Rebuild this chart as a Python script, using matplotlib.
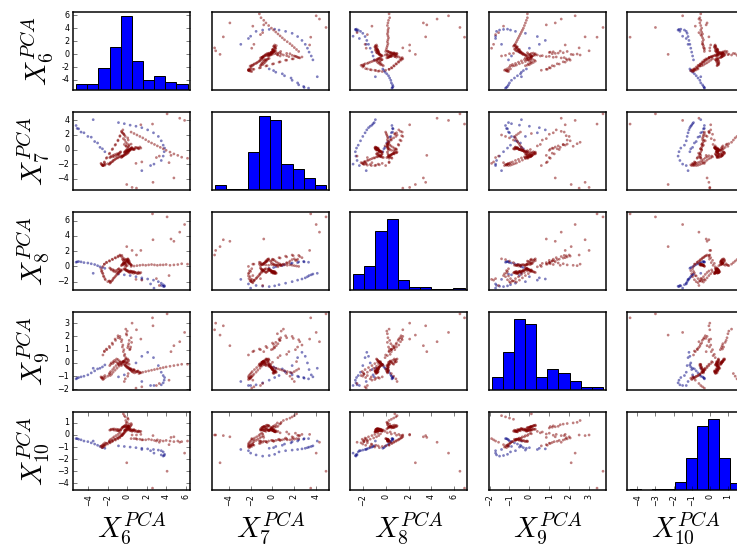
import numpy as np
import pandas as pd
import matplotlib
matplotlib.use("Agg")
import matplotlib.pyplot as plt
from pandas.plotting import scatter_matrix

# PCA components 6..10, one value per sample, grouped along the trajectory
pc6 = [
    -5.26, -5.15, -5.0, -4.75, -4.45, -4.05, -3.7, -3.35, -3.05, -2.8, -2.55, -2.3,
    -3.5, -0.9, -0.3, 0.3, 0.9, 1.5, 2.1, 2.7, 3.2, 3.5, 3.7, 3.84, 3.8, 3.7, 3.5, 2.75, 2.4, 1.5,
    0.4, 0.7, 1.0, 1.3, 1.6, 1.9, 2.2, 2.5, 2.8, 3.1, 3.4, 3.7, 4.0, 4.4, 4.8, 5.2, 5.6, 6.2,
    -0.3, -0.2, -0.25, -0.1, -0.15, 0.0, -0.05, 0.1, 0.05, 0.2, 0.15, 0.3, 0.25, 0.4, 0.35,
    0.45, 0.55, 0.5, 0.65, 0.6, 0.8, 0.75, 1.0, 0.9, 1.2, 1.1, 1.4, 0.7, 1.3, 1.15,
    -2.5, -2.35, -2.35, -2.15, -2.1, -1.85, -1.8, -1.55, -1.5, -1.25, -1.2, -0.95,
    -0.95, -0.75, -0.75, -0.55, -0.6, -0.45, -0.5, -0.35, -0.4, -0.25, -0.3, -0.15,
    -2.7, -2.6, -2.65, -2.5, -2.55, -2.4, -2.45, -2.25, -2.3, -2.0, -1.85, -1.75, -1.8,
    -1.6, -1.7, -1.45, -1.5, -1.25, -1.35, -1.05, -1.15, -0.85, -0.95, -0.65, -0.75, -0.5,
    -1.8, -1.65, -1.7, -1.45, -1.5, -1.3, -1.35, -1.1, -1.15, -0.95, -1.0, -0.8, -0.9, -0.7, -0.85, -0.68,
    -0.6, -0.45, -0.55, -0.35, -0.5, -0.25, -0.4, -0.15, -0.3, -0.05, -0.2, 0.05, -0.1, 0.15, 0.0, 0.1,
    0.2, -0.05, 0.25, 0.05, 0.3, 0.1, 0.35, 0.15, 0.45, 0.2, 0.4, -0.1, 0.0, -0.15, 0.1, 0.05, -0.2, -0.3, -0.4,
    2.6, 4.1, -0.05, 0.5, 0.95, 2.65, 1.4, 4.5, 4.8, 5.4, 5.9, 0.9, 1.5, 3.0, 3.3, 4.3,
]
pc7 = [
    3.3, 2.9, 2.85, 2.4, 2.3, 1.8, 1.7, 1.1, 0.9, 0.3, 0.1, -0.3,
    4.1, 3.7, 3.55, 3.35, 3.2, 3.0, 2.7, 2.3, 1.8, 1.2, 0.6, 0.2, -0.3, -0.9, -1.5, -2.0, -2.2, -2.9,
    2.4, 2.2, 2.0, 1.8, 1.6, 1.35, 1.1, 0.9, 0.7, 0.5, 0.3, 0.1, -0.1, -0.35, -0.6, -0.8, -1.05, -1.2,
    -0.35, -0.2, -0.4, -0.15, -0.3, -0.1, -0.25, -0.05, -0.2, 0.0, -0.15, 0.05, -0.1, 0.1, -0.05,
    0.15, 0.0, 0.2, 0.05, 0.1, 0.25, 0.05, 0.2, 0.3, 0.1, 0.25, 0.2, 0.0, 0.35, 0.15,
    -2.2, -1.8, -1.7, -1.2, -1.1, -0.6, -0.5, 0.0, 0.1, 0.6, 0.7, 1.2,
    1.3, 1.8, 1.9, 2.4, 2.5, 2.7, 2.3, 2.1, 1.5, 1.3, 0.7, 0.5,
    -1.9, -2.1, -2.0, -2.2, -2.15, -2.05, -2.2, -2.0, -2.15, -1.95, -2.05, -1.8, -1.95,
    -1.7, -1.85, -1.5, -1.65, -1.35, -1.45, -1.15, -1.25, -1.0, -1.15, -0.85, -1.0, -0.9,
    -1.1, -0.9, -1.05, -0.8, -1.0, -0.7, -0.95, -0.6, -0.85, -0.55, -0.75, -0.45, -0.7, -0.4, -0.6, -0.3,
    -1.1, -0.9, -1.0, -0.75, -0.95, -0.6, -0.85, -0.5, -0.8, -0.4, -0.7, -0.35, -0.65, -0.3, -0.55, -0.45,
    -0.15, 0.0, -0.1, 0.2, 0.05, 0.35, 0.15, 0.5, 0.3, 0.65, 0.75, 0.45, 0.8, 1.0, 1.3, 1.6, 1.8, 2.0, 2.2,
    3.5, 4.9, -4.8, -5.2, -5.3, -4.5, 3.4, -0.8, -3.9, 4.3, 4.0, -1.9, -1.7, -1.1, -0.9, -1.8,
]
pc8 = [
    0.55, 0.6, 0.65, 0.6, 0.5, 0.45, 0.35, 0.25, 0.1, -0.05, -0.15, -0.25,
    -0.9, -1.0, -1.1, -1.2, -1.35, -1.5, -1.65, -1.8, -2.0, -2.2, -2.4, -2.55, -2.65, -2.6, -2.5, -2.85, -2.3, -1.7,
    0.0, 0.05, 0.1, 0.15, 0.2, 0.15, 0.2, 0.25, 0.2, 0.15, 0.2, 0.2, 0.25, 0.15, 0.2, 0.25, 0.35, 0.3,
    -0.3, -0.45, -0.35, -0.55, -0.4, -0.6, -0.5, -0.7, -0.55, -0.75, -0.6, -0.65, -0.8, -0.7, -0.6,
    -0.85, -0.75, -0.65, -0.9, -0.7, -0.85, -0.75, -0.9, -0.8, -0.85, -0.95, -0.8, -0.7, -0.9, -0.75,
    0.0, 0.3, 0.3, 0.55, 0.5, 0.75, 0.7, 0.95, 0.9, 1.15, 1.1, 1.35,
    1.25, 1.5, 1.4, 1.45, 1.3, 1.15, 0.95, 0.8, 0.5, 0.4, 0.15, -0.05,
    -0.3, -0.55, -0.65, -0.95, -0.85, -1.35, -1.25, -1.75, -1.6, -2.0, -1.9, -2.15, -1.95,
    -1.9, -2.05, -1.6, -1.8, -1.35, -1.5, -1.05, -1.2, -0.8, -0.95, -0.6, -0.7, -0.45,
    -0.2, -0.45, -0.3, -0.6, -0.4, -0.7, -0.5, -0.8, -0.55, -0.75, -0.45, -0.65, -0.35, -0.55, -0.3, -0.45,
    0.1, 0.3, 0.2, 0.45, 0.25, 0.6, 0.35, 0.75, 0.4, 0.9, 0.5, 1.0, 0.55, 0.8, 0.65, 0.95,
    0.7, 0.85, 0.5, 0.75, 0.35, 0.6, 0.25, 0.45, 0.15, 0.35, 0.2, 0.15, 0.1, 0.3, 0.5, 0.7, 0.9, 1.0, 0.8,
    6.9, 6.5, 2.6, 2.1, 1.5, 3.5, 2.1, 3.6, 3.3, 4.5, 5.5, -1.7, -1.8, -1.6, -2.5, -1.2,
]
pc9 = [
    -1.2, -1.15, -1.1, -1.05, -1.0, -0.9, -0.75, -0.6, -0.45, -0.4, -0.3, -0.15,
    -0.4, -1.05, -0.9, -0.5, 0.0, 0.5, 0.8, 0.4, -0.2, -0.7, -0.95, -1.1, -1.3, -1.5, -1.65, -1.7, -1.7, -1.4,
    -0.45, -0.55, -0.65, -0.75, -0.7, -0.65, -0.6, -0.55, -0.5, -0.45, -0.4, -0.35, -0.3, -0.25, -0.2, -0.15, -0.1, -0.1,
    -0.1, -0.2, -0.15, -0.3, -0.2, -0.35, -0.25, -0.4, -0.3, -0.45, -0.35, -0.5, -0.4, -0.55, -0.45,
    -0.6, -0.5, -0.65, -0.55, -0.7, -0.6, -0.75, -0.65, -0.7, -0.8, -0.6, -0.75, -0.5, -0.7, -0.65,
    0.6, 0.85, 0.9, 1.05, 1.0, 1.25, 1.15, 1.5, 1.4, 1.8, 1.7, 2.05,
    1.9, 2.0, 1.85, 1.75, 1.6, 1.35, 1.2, 1.0, 0.85, 0.65, 0.55, 0.4,
    -1.05, -1.15, -1.1, -1.25, -1.15, -1.2, -1.05, -1.1, -0.95, -1.0, -0.85, -0.95, -0.75,
    -0.85, -0.65, -0.7, -0.5, -0.55, -0.35, -0.4, -0.2, -0.25, -0.05, -0.1, 0.05, 0.1,
    -0.2, 0.0, -0.1, 0.1, -0.05, 0.2, 0.05, 0.3, 0.1, 0.25, 0.0, 0.15, -0.1, 0.05, -0.15, -0.05,
    -0.2, 0.0, -0.1, 0.1, 0.05, 0.2, 0.1, 0.3, 0.15, 0.25, 0.05, 0.3, 0.0, 0.2, -0.05, 0.1,
    -0.1, 0.05, 1.0, 1.15, 1.05, 1.3, 1.2, 1.45, 1.55, 1.7, 1.9, 2.2, 2.4, 2.55, -0.8, -1.0, -1.2, -1.4, 0.1,
    3.4, 3.7, 2.1, 3.0, 2.5, 2.8, 1.8, 0.85, 1.3, 1.6, 2.3, -1.9, -1.8, -1.7, -1.55, -1.3,
]
pc10 = [
    -0.3, -0.3, -0.35, -0.4, -0.5, -0.55, -0.65, -0.75, -0.85, -0.95, -1.05, -1.1,
    -0.5, -0.9, -0.95, -1.0, -1.05, -1.1, -1.15, -1.2, -1.25, -1.3, -1.4, -1.6, -1.7, -1.75, -1.65, -1.5, -1.3, -1.2,
    -0.3, -0.3, -0.35, -0.35, -0.4, -0.4, -0.35, -0.4, -0.45, -0.4, -0.45, -0.5, -0.45, -0.5, -0.55, -0.5, -0.55, -0.5,
    0.35, 0.45, 0.4, 0.5, 0.38, 0.48, 0.42, 0.55, 0.4, 0.5, 0.45, 0.38, 0.5, 0.42, 0.35,
    0.45, 0.4, 0.3, 0.42, 0.35, 0.3, 0.4, 0.28, 0.36, 0.32, 0.25, 0.3, 0.44, 0.27, 0.33,
    -0.9, -0.8, -0.85, -0.7, -0.68, -0.55, -0.62, -0.45, -0.52, -0.35, -0.42, -0.25,
    -0.32, -0.15, -0.22, -0.05, -0.05, 0.05, -0.02, 0.15, 0.08, 0.25, 0.18, 0.3,
    -0.95, -1.05, -0.9, -1.0, -0.85, -0.95, -0.75, -0.85, -0.65, -0.75, -0.55, -0.65, -0.45,
    -0.55, -0.35, -0.45, -0.25, -0.35, -0.15, -0.25, -0.05, -0.15, 0.05, -0.05, 0.15, 0.1,
    0.4, 0.48, 0.42, 0.5, 0.45, 0.5, 0.4, 0.48, 0.38, 0.46, 0.36, 0.44, 0.34, 0.42, 0.3, 0.38,
    0.5, 0.65, 0.58, 0.72, 0.62, 0.78, 0.66, 0.82, 0.7, 0.8, 0.68, 0.76, 0.64, 0.74, 0.6, 0.7,
    0.62, 0.66, 0.58, 0.64, 0.7, 0.68, 0.76, 0.72, 0.85, 0.9, 0.95, 1.0, 1.05, 1.2, 1.3, 1.4, 1.5, 1.6, 1.75,
    -4.4, -3.0, -2.3, 0.0, 0.0, -0.05, 0.05, -0.2, -0.15, -0.6, -1.5, -0.3, -0.4, -0.5, -0.6, -0.8,
]
# 0 = blue class, 1 = red class
label = [
    0, 0, 0, 0, 0, 0, 0, 0, 0, 0, 0, 0,
    0, 0, 0, 0, 0, 0, 0, 0, 0, 0, 0, 0, 0, 0, 0, 0, 0, 0,
    1, 1, 1, 1, 1, 1, 1, 1, 1, 1, 1, 1, 1, 1, 1, 1, 1, 1,
    1, 1, 1, 1, 1, 1, 1, 1, 1, 1, 1, 1, 1, 1, 1,
    1, 1, 1, 1, 1, 1, 1, 1, 1, 1, 1, 1, 1, 1, 1,
    1, 1, 1, 1, 1, 1, 1, 1, 1, 1, 1, 1,
    1, 1, 1, 1, 1, 1, 1, 1, 1, 1, 1, 1,
    1, 1, 1, 1, 1, 1, 1, 1, 1, 1, 1, 1, 1,
    1, 1, 1, 1, 1, 1, 1, 1, 1, 1, 1, 1, 1,
    1, 1, 1, 1, 1, 1, 1, 1, 1, 1, 1, 1, 1, 1, 1, 1,
    1, 1, 1, 1, 1, 1, 1, 1, 1, 1, 1, 1, 1, 1, 1, 1,
    1, 1, 1, 1, 1, 1, 1, 1, 1, 1, 1, 1, 1, 1, 1, 1, 1, 1, 1,
    1, 1, 1, 1, 1, 1, 1, 1, 1, 1, 1, 1, 1, 1, 1, 1,
]
names = ['$X_{6}^{PCA}$', '$X_{7}^{PCA}$', '$X_{8}^{PCA}$', '$X_{9}^{PCA}$', '$X_{10}^{PCA}$']

plt.style.use('classic')
plt.rcParams['figure.facecolor'] = 'white'
plt.rcParams['savefig.facecolor'] = 'white'
plt.rcParams['axes.labelsize'] = 28
plt.rcParams['axes.linewidth'] = 1.5

df = pd.DataFrame(dict(zip(names, [pc6, pc7, pc8, pc9, pc10])))

W, H = 737, 554
axes = scatter_matrix(df, alpha=0.5, figsize=(W / 72, H / 72), diagonal='hist',
                      c=label, cmap='jet', s=30, hist_kwds={'color': 'blue'})
fig = axes[0, 0].figure

# place the 5x5 grid in pixels (last column runs past the right edge)
for i in range(5):
    for j in range(5):
        left = 73.3 + 138.5 * j
        top = 12 + 100 * i
        axes[i, j].set_position([left / W, 1 - (top + 78) / H, 117 / W, 78 / H])

fig.savefig('out.png', dpi=72)
